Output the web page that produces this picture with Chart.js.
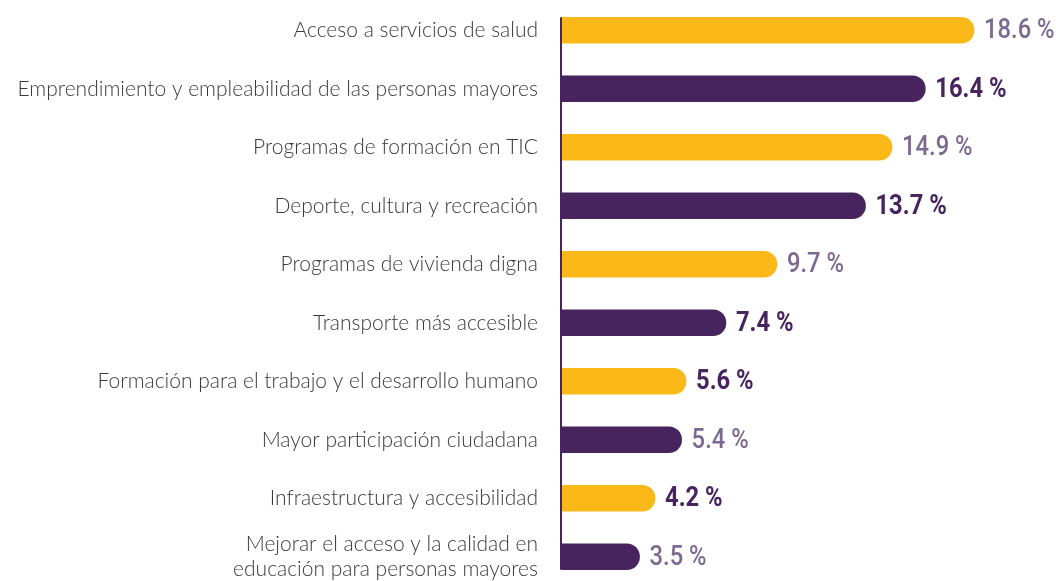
<!DOCTYPE html>
<html>
<head>
<meta charset="utf-8">
<script src="https://cdn.jsdelivr.net/npm/chart.js@4"></script>
<style>
  html, body { margin:0; padding:0; background:#fff; overflow:hidden; }
  canvas { display:block; }
</style>
</head>
<body>
<canvas id="c" width="1056" height="586" style="width:1056px;height:586px"></canvas>
<script>
const categories = [
  "Acceso a servicios de salud",
  "Emprendimiento y empleabilidad de las personas mayores",
  "Programas de formación en TIC",
  "Deporte, cultura y recreación",
  "Programas de vivienda digna",
  "Transporte más accesible",
  "Formación para el trabajo y el desarrollo humano",
  "Mayor participación ciudadana",
  "Infraestructura y accesibilidad",
  ["Mejorar el acceso y la calidad en", "educación para personas mayores"]
];
const values = [18.6, 16.4, 14.9, 13.7, 9.7, 7.4, 5.6, 5.4, 4.2, 3.5];
const barColors = ["#FBB919","#47245E","#FBB919","#47245E","#FBB919","#47245E","#FBB919","#47245E","#FBB919","#47245E"];
const labelColors = ["#7D6890","#47245E","#7D6890","#47245E","#7D6890","#47245E","#47245E","#7D6890","#47245E","#7D6890"];
const labelBold = [false,true,false,true,false,true,true,false,true,false];

const PURPLE = "#47245E";
const VALUE_FONT = "Roboto,'DejaVu Sans',sans-serif";

const axisLinePlugin = {
  id: 'axisLine',
  afterDatasetsDraw(chart) {
    const meta = chart.getDatasetMeta(0);
    const x0 = chart.scales.x.getPixelForValue(0);
    const first = meta.data[0], last = meta.data[meta.data.length - 1];
    const top = first.y - first.height / 2;
    const bottom = last.y + last.height / 2;
    const ctx = chart.ctx;
    ctx.save();
    ctx.strokeStyle = PURPLE;
    ctx.lineWidth = 2;
    ctx.beginPath();
    ctx.moveTo(x0 - 1, top);
    ctx.lineTo(x0 - 1, bottom);
    ctx.stroke();
    ctx.restore();
  }
};

const valueLabelPlugin = {
  id: 'valueLabels',
  afterDatasetsDraw(chart) {
    const meta = chart.getDatasetMeta(0);
    const ctx = chart.ctx;
    meta.data.forEach((bar, i) => {
      ctx.save();
      ctx.textBaseline = 'middle';
      ctx.textAlign = 'left';
      ctx.font = (labelBold[i] ? '700 ' : '500 ') + '27px ' + VALUE_FONT;
      ctx.fillStyle = labelColors[i];
      ctx.translate(bar.x + 10, bar.y + 1);
      ctx.scale(0.88, 1);
      ctx.fillText(values[i].toFixed(1) + ' %', 0, 0);
      ctx.restore();
    });
  }
};

new Chart(document.getElementById('c'), {
  type: 'bar',
  data: {
    labels: categories,
    datasets: [{
      data: values,
      backgroundColor: barColors,
      borderWidth: 0,
      borderSkipped: 'start',
      borderRadius: { topLeft: 0, bottomLeft: 0, topRight: 13, bottomRight: 13 },
      barThickness: 26
    }]
  },
  options: {
    indexAxis: 'y',
    responsive: false,
    maintainAspectRatio: false,
    animation: false,
    layout: { padding: { top: 1, bottom: 0, left: 0, right: 0 } },
    plugins: { legend: { display: false }, tooltip: { enabled: false } },
    scales: {
      x: { display: false, min: 0, max: 22.3 },
      y: {
        afterFit(scale) { scale.width = 562; scale.paddingTop = 0; scale.paddingBottom = 0; },
        grid: { display: false, drawTicks: false },
        border: { display: false },
        ticks: {
          color: '#3a3a3a',
          padding: 24,
          font: { family: "Lato, 'Open Sans', sans-serif", size: 21, weight: 300, lineHeight: 1.2 }
        }
      }
    }
  },
  plugins: [axisLinePlugin, valueLabelPlugin]
});
</script>
</body>
</html>
